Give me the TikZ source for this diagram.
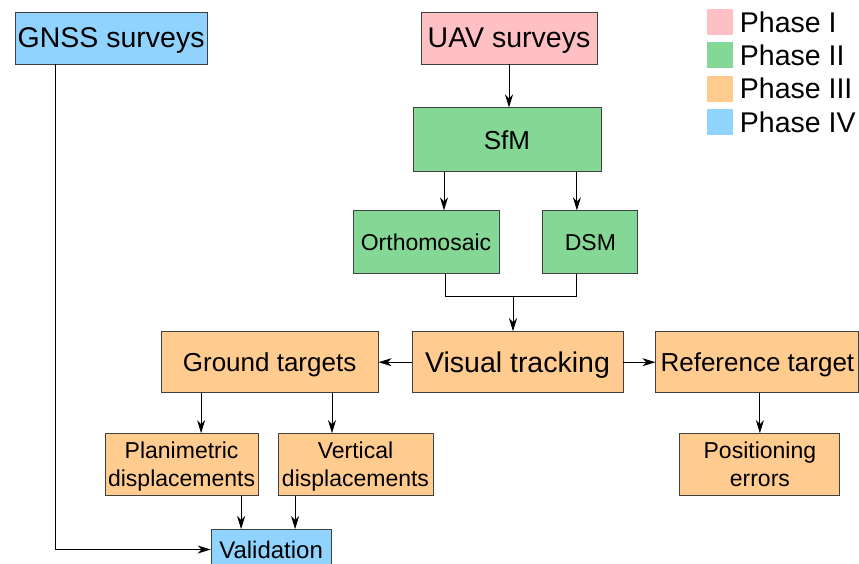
\documentclass[tikz,border=0pt]{standalone}
\usepackage{fontspec}
\setmainfont{Liberation Sans}
\usetikzlibrary{arrows.meta, positioning}

\definecolor{phaseI}{RGB}{255,192,196}
\definecolor{phaseII}{RGB}{133,215,149}
\definecolor{phaseIII}{RGB}{255,203,142}
\definecolor{phaseIV}{RGB}{143,211,254}
\definecolor{edge}{RGB}{64,64,64}

\tikzset{
    box/.style={draw=edge, line width=0.9pt, inner sep=0pt, align=center, text depth=0pt},
    legbox/.style={minimum size=26pt, inner sep=0pt},
    fa/.style={font=\fontsize{28.5}{34}\selectfont},
    fb/.style={font=\fontsize{26}{31}\selectfont},
    fc/.style={font=\fontsize{23}{28}\selectfont},
}

\begin{document}
\begin{tikzpicture}[>={Stealth[length=13pt,width=8pt,inset=4pt]}, line width=0.9pt]
        \useasboundingbox (0,0) rectangle (859pt,-563pt);
        \node[box, fa, fill=phaseI, minimum width=176pt, minimum height=52pt] (UAV) at (509pt,-38pt) {UAV surveys};
        \node[box, fa, fill=phaseIV, minimum width=192pt, minimum height=52pt, left=213pt of UAV] (GNSS) {GNSS surveys};
        \node[box, fb, fill=phaseII, minimum width=188pt, minimum height=64pt, below=43pt of UAV, xshift=-2pt] (SfM) {SfM};
        \node[box, fc, fill=phaseII, minimum width=146pt, minimum height=63pt, below=38pt of SfM, xshift=-81pt] (Ortho) {Orthomosaic};
        \node[box, fc, fill=phaseII, minimum width=95pt, minimum height=63pt, right=43pt of Ortho] (DSM) {DSM};
        \node[box, fa, fill=phaseIII, minimum width=211pt, minimum height=61pt, below=57pt of Ortho, xshift=91.5pt] (VT) {Visual tracking};
        \node[box, fb, fill=phaseIII, minimum width=217pt, minimum height=61pt, left=33pt of VT] (GT) {Ground targets};
        \node[box, fb, fill=phaseIII, minimum width=203pt, minimum height=61pt, right=32pt of VT] (RT) {Reference target};
        \node[box, fc, fill=phaseIII, minimum width=153pt, minimum height=62pt, below=40pt of GT, xshift=-88pt] (PD) {Planimetric\\displacements};
        \node[box, fc, fill=phaseIII, minimum width=155pt, minimum height=62pt, right=19pt of PD] (VD) {Vertical\\displacements};
        \node[box, fc, fill=phaseIII, minimum width=160pt, minimum height=62pt, below=40pt of RT, xshift=2.5pt] (PE) {Positioning\\errors};
        \node[box, font=\fontsize{24}{29}\selectfont, fill=phaseIV, minimum width=120pt, minimum height=40pt, below=33pt of PD, xshift=89.5pt] (Val) {Validation};

        % legend
        \foreach \c/\t [count=\i] in {phaseI/Phase I, phaseII/Phase II, phaseIII/Phase III, phaseIV/Phase IV} {
            \node[legbox, fill=\c] (Leg\i) at (720pt, {-22pt-33.3pt*(\i-1)}) {};
            \node[fa, inner sep=0pt, right=6pt of Leg\i] (LegText\i) {\t};
        }

        \draw[->] (UAV) -- (UAV |- SfM.north);
        \draw[->] ([xshift=18pt]Ortho.north |- SfM.south) -- ([xshift=18pt]Ortho.north);
        \draw[->] ([xshift=-13.5pt]DSM.north |- SfM.south) -- ([xshift=-13.5pt]DSM.north);
        \coordinate[above=35pt of VT.north, xshift=-4.5pt] (Merge);
        \draw ([xshift=19pt]Ortho.south) |- (Merge) -| ([xshift=-13.5pt]DSM.south);
        \draw[->] (Merge) -- (Merge |- VT.north);
        \draw[->] (VT) -- (GT);
        \draw[->] (VT) -- (RT);
        \draw[->] ([xshift=19.5pt]PD.north |- GT.south) -- ([xshift=19.5pt]PD.north);
        \draw[->] ([xshift=-23.5pt]VD.north |- GT.south) -- ([xshift=-23.5pt]VD.north);
        \draw[->] (PE.north |- RT.south) -- (PE.north);
        \draw[->] ([xshift=-30pt]Val.north |- PD.south) -- ([xshift=-30pt]Val.north);
        \draw[->] ([xshift=24pt]Val.north |- VD.south) -- ([xshift=24pt]Val.north);
        \draw[->] ([xshift=-56pt]GNSS.south) |- (Val.west);
    \end{tikzpicture}
\end{document}
